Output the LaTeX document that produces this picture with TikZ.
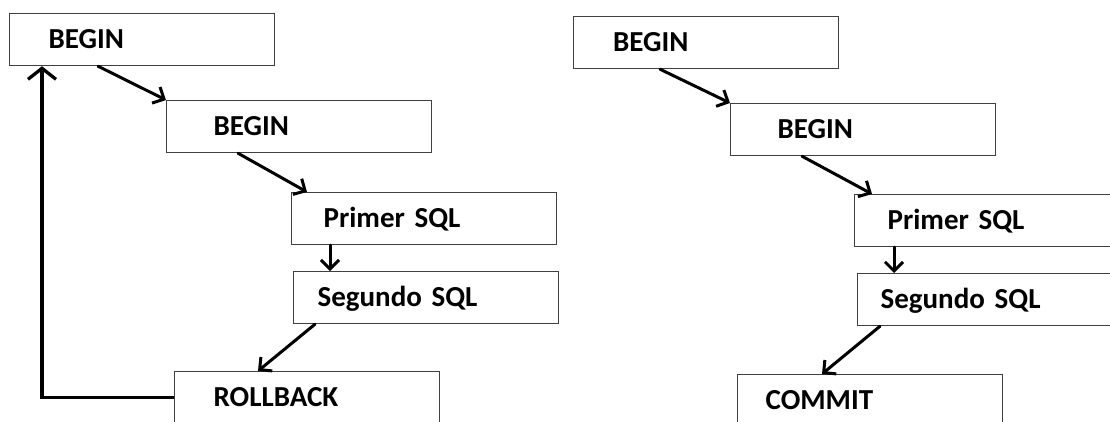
\documentclass[tikz,border=0pt]{standalone}
\usepackage{fontspec}
\setmainfont{Carlito}
\usetikzlibrary{arrows.meta,calc}
\definecolor{boxgray}{HTML}{404040}
\newcommand{\myboxfont}{\fontsize{29}{32}\selectfont\bfseries\spaceskip=5.8pt\relax}
\begin{document}
\begin{tikzpicture}[x=1pt,y=-1pt,
  box/.style 2 args={draw=boxgray, line width=1.2pt, rectangle, anchor=north west,
    minimum width=265pt, minimum height=52pt, inner ysep=0pt,
    inner xsep=#1pt, text width=#2pt, align=left,
    text height=18pt, text depth=0pt,
    font=\myboxfont},
  arr/.style={line width=3pt, line cap=round,
    -{Straight Barb[length=9pt,width=18pt,line width=3pt]}},
  back/.style={line width=3.3pt,
    -{Straight Barb[length=11pt,width=28pt,line width=3.3pt]}}]
\useasboundingbox (0,0) rectangle (1110,421);
\clip (0,0) rectangle (1110,421);
% left column
\node[box={39}{187}] (Lb1) at (9,13) {BEGIN};
\node[box={47}{171}] (Lb2) at (166,100) {BEGIN};
\node[box={32}{201}] (Lp) at (291,192) {Primer SQL};
\node[box={24}{217}] (Ls) at (293,271) {Segundo SQL};
\node[box={39}{187}] (Lr) at (174,371) {ROLLBACK};
% right column
\node[box={39}{186}] (Rb1) at (573,16) {BEGIN};
\node[box={47}{171}] (Rb2) at (730,103) {BEGIN};
\node[box={33}{199}] (Rp) at (854,194) {Primer SQL};
\node[box={23}{219}] (Rs) at (857,273) {Segundo SQL};
\node[box={28}{209}] (Rc) at (737,374) {COMMIT};
% left connectors
\draw[arr] ($(Lb1.south west)+(89,0)$) -- (Lb2.north west);
\draw[arr] ($(Lb2.south west)+(72,0)$) -- ($(Lp.north west)+(16,0)$);
\draw[arr] ($(Lp.south west)+(39,0)$) -- ($(Ls.north west)+(37,0)$);
\draw[arr] ($(Ls.south west)+(22,0)$) -- ($(Lr.north west)+(84,0)$);
\draw[back] (Lr.west) -| ($(Lb1.south west)+(33,0)$);
% right connectors
\draw[arr] ($(Rb1.south west)+(87,0)$) -- (Rb2.north west);
\draw[arr] ($(Rb2.south west)+(72,0)$) -- ($(Rp.north west)+(18,0)$);
\draw[arr] ($(Rp.south west)+(40,0)$) -- ($(Rs.north west)+(37,0)$);
\draw[arr] ($(Rs.south west)+(23,0)$) -- ($(Rc.north west)+(85,0)$);
\end{tikzpicture}
\end{document}
